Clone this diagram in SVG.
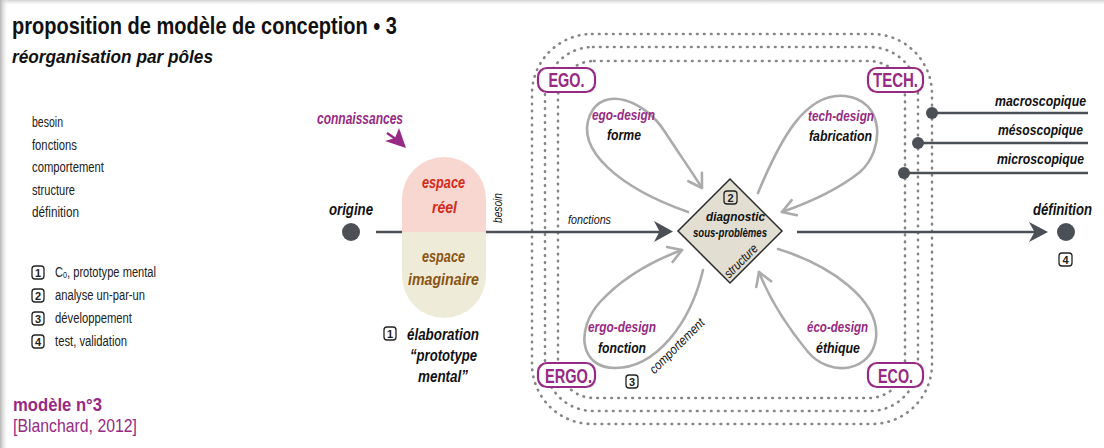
<svg xmlns="http://www.w3.org/2000/svg" width="1104" height="448" viewBox="0 0 1104 448">
<style>
text{font-family:"Liberation Sans",Arial,sans-serif;}
.t{fill:#111;font-weight:bold;}
.bi{font-weight:bold;font-style:italic;}
.it{font-style:italic;}
.reg{fill:#222;font-size:14px;}
.pur{fill:#962a84;}
.blk{fill:#111;}
.mid{text-anchor:middle;}
.end{text-anchor:end;}
.dots{fill:none;stroke:#858585;stroke-width:2.6;stroke-linecap:round;stroke-dasharray:0.6 6.4;}
.pole rect{fill:#fff;stroke:#962a84;stroke-width:2.2;}
.pole text{fill:#962a84;font-weight:bold;font-size:20px;text-anchor:middle;}
.box rect{fill:none;stroke:#222;stroke-width:1.3;}
.box text{fill:#222;font-weight:bold;font-size:11px;text-anchor:middle;}
.loop{fill:none;stroke:#ababab;stroke-width:2.6;stroke-linecap:round;marker-end:url(#chev);}
.main{fill:none;stroke:#4b4f56;stroke-width:2.6;}
.head{fill:#4b4f56;}
.dot{fill:#4b4f56;}
</style>
<defs>
<marker id="chev" viewBox="0 0 20 20" refX="16" refY="10" markerWidth="20" markerHeight="20" markerUnits="userSpaceOnUse" orient="auto">
<path d="M3,2 L16,10 L3,18" fill="none" stroke="#ababab" stroke-width="2.6" stroke-linecap="round" stroke-linejoin="round"/>
</marker>
<linearGradient id="shL" x1="0" y1="0" x2="1" y2="0">
<stop offset="0" stop-color="#b5b5b5"/><stop offset="1" stop-color="#fff" stop-opacity="0"/>
</linearGradient>
<linearGradient id="shT" x1="0" y1="0" x2="0" y2="1">
<stop offset="0" stop-color="#d0d0d0"/><stop offset="1" stop-color="#fff" stop-opacity="0"/>
</linearGradient>
<clipPath id="pillclip"><rect x="402" y="157" width="84" height="161" rx="42"/></clipPath>
</defs>

<rect width="1104" height="448" fill="#fff"/>
<rect x="0" y="0" width="1104" height="6" fill="url(#shT)"/>
<rect x="0" y="0" width="9" height="448" fill="url(#shL)"/>

<g id="title">
<text class="t" x="12" y="34" font-size="24" textLength="385" lengthAdjust="spacingAndGlyphs">proposition de modèle de conception • 3</text>
<text class="bi blk" x="12" y="63" font-size="19" textLength="201" lengthAdjust="spacingAndGlyphs">réorganisation par pôles</text>
</g>

<g id="legend-stages">
<text class="reg" x="32" y="127" textLength="31" lengthAdjust="spacingAndGlyphs">besoin</text>
<text class="reg" x="32" y="149.5" textLength="45" lengthAdjust="spacingAndGlyphs">fonctions</text>
<text class="reg" x="32" y="172" textLength="72" lengthAdjust="spacingAndGlyphs">comportement</text>
<text class="reg" x="32" y="194.5" textLength="43" lengthAdjust="spacingAndGlyphs">structure</text>
<text class="reg" x="32" y="217" textLength="47" lengthAdjust="spacingAndGlyphs">définition</text>
</g>

<g id="legend-steps">
<g class="box"><rect x="32" y="266" width="12" height="13" rx="3"/><text x="38" y="276.5">1</text></g>
<g class="box"><rect x="32" y="289" width="12" height="13" rx="3"/><text x="38" y="299.5">2</text></g>
<g class="box"><rect x="32" y="312" width="12" height="13" rx="3"/><text x="38" y="322.5">3</text></g>
<g class="box"><rect x="32" y="335" width="12" height="13" rx="3"/><text x="38" y="345.5">4</text></g>
<text class="reg" x="55" y="276.5" textLength="101" lengthAdjust="spacingAndGlyphs">C<tspan font-size="9" dy="1.5">0</tspan><tspan dy="-1.5">, prototype mental</tspan></text>
<text class="reg" x="55" y="299.5" textLength="90" lengthAdjust="spacingAndGlyphs">analyse un-par-un</text>
<text class="reg" x="55" y="322.5" textLength="77" lengthAdjust="spacingAndGlyphs">développement</text>
<text class="reg" x="55" y="345.5" textLength="72" lengthAdjust="spacingAndGlyphs">test, validation</text>
</g>

<g id="reference">
<text class="pur" x="13" y="411" font-size="19" font-weight="bold" textLength="89" lengthAdjust="spacingAndGlyphs">modèle n°3</text>
<text class="pur" x="13" y="432" font-size="19" textLength="124" lengthAdjust="spacingAndGlyphs">[Blanchard, 2012]</text>
</g>

<g id="poles-frame">
<rect class="dots" x="532" y="34" width="400" height="390" rx="60"/>
<rect class="dots" x="545" y="47" width="373" height="364" rx="48"/>
<rect class="dots" x="558" y="61" width="347" height="337" rx="36"/>
</g>

<g id="connectors">
<path class="main" d="M376,232 L660,232"/>
<polygon class="head" points="673,231.5 654,221 659.5,231.5 654,242"/>
<path class="main" d="M797,232 L1036,232"/>
<polygon class="head" points="1048,232 1029,222 1034.5,232 1029,242"/>
<path class="main" d="M932,113 L1088,113"/>
<path class="main" d="M918,143 L1088,143"/>
<path class="main" d="M904,173 L1088,173"/>
<path class="loop" d="M688,212 C620,188 575,150 590,115 C603,85 645,100 665,132 C680,155 692,172 702,188"/>
<path class="loop" d="M758,193 C780,140 805,92 845,96 C885,100 885,150 860,172 C835,192 805,204 782,212"/>
<path class="loop" d="M703,270 C690,325 655,368 615,368 C580,368 575,330 600,302 C625,275 655,260 682,250"/>
<path class="loop" d="M778,249 C830,265 880,300 876,338 C872,372 830,378 808,352 C790,330 770,300 759,272"/>
<path d="M387,133 L400,142" stroke="#962a84" stroke-width="2.5" fill="none"/>
<polygon points="399,128 406,148 385,141 395,138" fill="#962a84"/>
<text class="it blk" x="498" y="208" font-size="13" text-anchor="middle" transform="rotate(-90 498 208)" dy="4" textLength="30" lengthAdjust="spacingAndGlyphs">besoin</text>
<text class="it blk" x="568" y="224" font-size="13" textLength="43" lengthAdjust="spacingAndGlyphs">fonctions</text>
<text class="it blk mid" font-size="13" transform="translate(680 349) rotate(-45)" textLength="72" lengthAdjust="spacingAndGlyphs">comportement</text>
<g class="box"><rect x="626" y="375" width="12" height="13" rx="3"/><text x="632" y="385.5">3</text></g>
<text class="bi pur" x="317" y="124" font-size="16" textLength="86" lengthAdjust="spacingAndGlyphs">connaissances</text>
</g>

<g id="origine">
<circle class="dot" cx="351" cy="232" r="9"/>
<text class="bi blk" x="329" y="215" font-size="16" textLength="44" lengthAdjust="spacingAndGlyphs">origine</text>
</g>

<g id="espaces">
<g clip-path="url(#pillclip)">
<rect x="402" y="157" width="84" height="75" fill="#f9d7d1"/>
<rect x="402" y="232" width="84" height="86" fill="#eeecd9"/>
</g>
<text class="bi" fill="#d42a1a" x="443.5" y="188" font-size="17" text-anchor="middle" textLength="43" lengthAdjust="spacingAndGlyphs">espace</text>
<text class="bi" fill="#d42a1a" x="444.5" y="213" font-size="17" text-anchor="middle" textLength="25" lengthAdjust="spacingAndGlyphs">réel</text>
<text class="bi" fill="#8a5413" x="443.5" y="262" font-size="17" text-anchor="middle" textLength="43" lengthAdjust="spacingAndGlyphs">espace</text>
<text class="bi" fill="#8a5413" x="443.5" y="285" font-size="17" text-anchor="middle" textLength="71" lengthAdjust="spacingAndGlyphs">imaginaire</text>
</g>

<g id="elaboration">
<g class="box"><rect x="384" y="327" width="12" height="13" rx="3"/><text x="390" y="337.5">1</text></g>
<text class="bi blk" x="443" y="340" font-size="16" text-anchor="middle" textLength="72" lengthAdjust="spacingAndGlyphs">élaboration</text>
<text class="bi blk" x="443.5" y="361" font-size="16" text-anchor="middle" textLength="67" lengthAdjust="spacingAndGlyphs">“prototype</text>
<text class="bi blk" x="443" y="382" font-size="16" text-anchor="middle" textLength="50" lengthAdjust="spacingAndGlyphs">mental”</text>
</g>

<g id="diagnostic">
<polygon points="730,179 782,231 730,283 678,231" fill="#e2ded1" stroke="#2b2b2b" stroke-width="1.5"/>
<g class="box"><rect x="724" y="191" width="13" height="13" rx="3"/><text x="730.5" y="201.5">2</text></g>
<text class="bi blk mid" x="735.5" y="221" font-size="13" textLength="59" lengthAdjust="spacingAndGlyphs">diagnostic</text>
<text class="bi blk mid" x="730" y="237" font-size="13" textLength="74" lengthAdjust="spacingAndGlyphs">sous-problèmes</text>
<text class="it blk mid" font-size="13" transform="translate(744 264) rotate(-45)" textLength="42" lengthAdjust="spacingAndGlyphs">structure</text>
</g>

<g id="pole-ego">
<g class="pole"><rect x="538" y="68" width="57" height="24" rx="9"/><text x="566.5" y="87" textLength="36" lengthAdjust="spacingAndGlyphs">EGO.</text></g>
<text class="bi pur mid" x="623.5" y="120" font-size="15" textLength="63" lengthAdjust="spacingAndGlyphs">ego-design</text>
<text class="bi blk mid" x="624" y="140" font-size="15" textLength="34" lengthAdjust="spacingAndGlyphs">forme</text>
</g>

<g id="pole-tech">
<g class="pole"><rect x="868" y="68" width="55" height="24" rx="9"/><text x="895.5" y="87" textLength="45" lengthAdjust="spacingAndGlyphs">TECH.</text></g>
<text class="bi pur mid" x="841" y="121" font-size="15" textLength="66" lengthAdjust="spacingAndGlyphs">tech-design</text>
<text class="bi blk mid" x="840.5" y="141" font-size="15" textLength="63" lengthAdjust="spacingAndGlyphs">fabrication</text>
</g>

<g id="pole-ergo">
<g class="pole"><rect x="538" y="363" width="57" height="24" rx="9"/><text x="568.5" y="383" textLength="47" lengthAdjust="spacingAndGlyphs">ERGO.</text></g>
<text class="bi pur mid" x="622" y="332" font-size="15" textLength="68" lengthAdjust="spacingAndGlyphs">ergo-design</text>
<text class="bi blk mid" x="622" y="353" font-size="15" textLength="48" lengthAdjust="spacingAndGlyphs">fonction</text>
</g>

<g id="pole-eco">
<g class="pole"><rect x="868" y="363" width="55" height="24" rx="9"/><text x="895.5" y="383" textLength="35" lengthAdjust="spacingAndGlyphs">ECO.</text></g>
<text class="bi pur mid" x="837.5" y="332" font-size="15" textLength="61" lengthAdjust="spacingAndGlyphs">éco-design</text>
<text class="bi blk mid" x="838" y="353" font-size="15" textLength="44" lengthAdjust="spacingAndGlyphs">éthique</text>
</g>

<g id="scales">
<circle class="dot" cx="932" cy="113" r="6"/>
<circle class="dot" cx="918" cy="143" r="6"/>
<circle class="dot" cx="904" cy="173" r="6"/>
<text class="bi blk end" x="1086" y="106" font-size="15" textLength="91" lengthAdjust="spacingAndGlyphs">macroscopique</text>
<text class="bi blk end" x="1083" y="135" font-size="15" textLength="85" lengthAdjust="spacingAndGlyphs">mésoscopique</text>
<text class="bi blk end" x="1084" y="164" font-size="15" textLength="87" lengthAdjust="spacingAndGlyphs">microscopique</text>
</g>

<g id="definition">
<circle class="dot" cx="1066" cy="232" r="9"/>
<text class="bi blk end" x="1092" y="215" font-size="16" textLength="59" lengthAdjust="spacingAndGlyphs">définition</text>
<g class="box"><rect x="1059" y="253" width="13" height="13" rx="3"/><text x="1065.5" y="263.5">4</text></g>
</g>
</svg>
